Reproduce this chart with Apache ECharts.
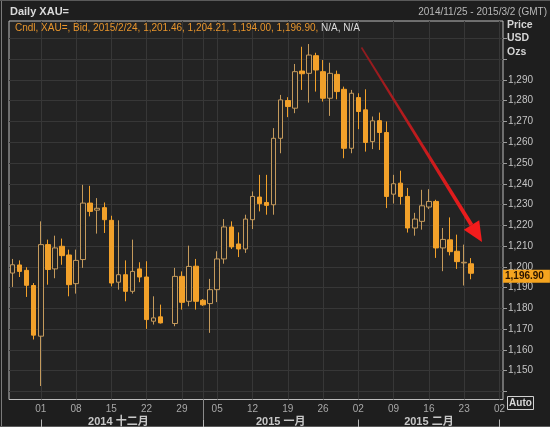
<!DOCTYPE html>
<html>
<head>
<meta charset="utf-8">
<script src="https://cdn.jsdelivr.net/npm/echarts@6/dist/echarts.min.js"></script>
<style>
html, body { margin: 0; padding: 0; background: #1e1e1e; }
#chart { width: 550px; height: 427px; }
</style>
</head>
<body>
<div id="chart"></div>
<script>
// trading days on the axis, 2014/11/25 - 2015/3/2
const dates = [
  '2014-11-25', '2014-11-26', '2014-11-27', '2014-11-28',
  '2014-12-01', '2014-12-02', '2014-12-03', '2014-12-04', '2014-12-05',
  '2014-12-08', '2014-12-09', '2014-12-10', '2014-12-11', '2014-12-12',
  '2014-12-15', '2014-12-16', '2014-12-17', '2014-12-18', '2014-12-19',
  '2014-12-22', '2014-12-23', '2014-12-24', '2014-12-25', '2014-12-26',
  '2014-12-29', '2014-12-30', '2014-12-31', '2015-01-01', '2015-01-02',
  '2015-01-05', '2015-01-06', '2015-01-07', '2015-01-08', '2015-01-09',
  '2015-01-12', '2015-01-13', '2015-01-14', '2015-01-15', '2015-01-16',
  '2015-01-19', '2015-01-20', '2015-01-21', '2015-01-22', '2015-01-23',
  '2015-01-26', '2015-01-27', '2015-01-28', '2015-01-29', '2015-01-30',
  '2015-02-02', '2015-02-03', '2015-02-04', '2015-02-05', '2015-02-06',
  '2015-02-09', '2015-02-10', '2015-02-11', '2015-02-12', '2015-02-13',
  '2015-02-16', '2015-02-17', '2015-02-18', '2015-02-19', '2015-02-20',
  '2015-02-23', '2015-02-24', '2015-02-25', '2015-02-26', '2015-02-27',
  '2015-03-02'
];

const opens = [1197, 1200.9, 1198.3, 1191, 1166.6, 1210.7, 1199, 1209.9, 1205.7, 1191.9,
  1203.5, 1230.7, 1227.3, 1228.5, 1222.4, 1192.6, 1196.2, 1188.2, 1199, 1195.1,
  1173.8, 1175.9, null, 1172.7, 1195.4, 1183.4, 1200.3, 1183.9, 1182.3, 1189,
  1203.8, 1219.2, 1211, 1208.6, 1222.7, 1233.6, 1231, 1229.9, 1261.9, 1280.1,
  1276.4, 1294.3, 1293.2, 1301.7, 1294, 1281.2, 1292.7, 1285.5, 1257.1, 1281.5,
  1275.6, 1260.3, 1270.4, 1264.7, 1235, 1240.3, 1233.9, 1218.7, 1221.9, 1228.8,
  1231.5, 1209.1, 1213, 1207.5, 1201.9, 1201.46, null, null, null, null];
const closes = [1201, 1197.8, 1191.1, 1167.1, 1210.7, 1198.7, 1209.1, 1205.4, 1191.4, 1203.1,
  1230.7, 1226.7, 1228.2, 1222.7, 1192.2, 1196.2, 1188.2, 1197.8, 1195.1, 1174.6,
  1175.4, 1173, null, 1195.4, 1182.9, 1200.2, 1183.4, 1181.7, 1189, 1203.8,
  1219.2, 1209.6, 1208.6, 1223, 1233.9, 1230.4, 1229.6, 1261.9, 1280.4, 1277.2,
  1294, 1293, 1302, 1294.8, 1281.2, 1293.2, 1284.4, 1257.1, 1283.6, 1274.8,
  1259.9, 1270.3, 1264.7, 1233.9, 1240, 1233.9, 1218.7, 1223, 1229.4, 1231.5,
  1209.1, 1213.2, 1207.3, 1202.5, 1202.2, 1196.90, null, null, null, null];
const lows = [1190.3, 1195.1, 1185.5, 1165, 1142.6, 1191.4, 1194.5, 1201, 1185.8, 1187.1,
  1199.5, 1224.3, 1216, 1216.3, 1190.6, 1189, 1183.4, 1187.1, 1192.6, 1170.1,
  1172.2, 1172.7, null, 1171.4, 1179.4, 1181, 1179.4, 1181.2, 1168.2, 1183,
  1201.5, 1208.6, 1204.7, 1206.7, 1218.2, 1226.7, 1225.1, 1225.1, 1254.7, 1272.1,
  1274, 1285.2, 1279.1, 1284.4, 1279.6, 1272.7, 1280.7, 1252.3, 1254.7, 1266.3,
  1255.5, 1256.7, 1256.3, 1228.3, 1230.5, 1230, 1216.5, 1215, 1217.9, 1227.8,
  1204.3, 1197.9, 1205.5, 1199, 1191, 1194.00, null, null, null, null];
const highs = [1203.8, 1203.1, 1199.8, 1192.2, 1221.9, 1213.1, 1215, 1213.6, 1208.3, 1208.3,
  1239.5, 1239, 1233.1, 1231, 1224.6, 1222.4, 1203.1, 1213.1, 1202.2, 1202.7,
  1185.8, 1181.8, null, 1199.5, 1197.8, 1210.2, 1203.8, 1184.5, 1194.2, 1207.5,
  1223, 1221.9, 1216.6, 1225.1, 1236.3, 1244.3, 1244.3, 1266.8, 1282.8, 1281.7,
  1297.7, 1306, 1307.3, 1303.1, 1299.6, 1298.3, 1294.5, 1286.8, 1285.2, 1283.6,
  1285.5, 1272.4, 1274.3, 1270, 1244.3, 1246.3, 1238, 1226, 1237.1, 1237.4,
  1232.3, 1218.7, 1223.8, 1215.5, 1210.7, 1204.21, null, null, null, null];

const lastClose = 1196.90;
const yMin = 1136.1;
const yMax = 1318.4;
const monthNames = ['一月', '二月', '三月', '四月', '五月', '六月', '七月', '八月', '九月', '十月', '十一月', '十二月'];

const FONT = '"Liberation Sans", "Noto Sans CJK SC", sans-serif';
const UP = '#c49a5c';
const DOWN = '#f2a12a';

const isMonday = d => new Date(d + 'T00:00:00Z').getUTCDay() === 1;
const monthStart = i => i > 0 && dates[i].slice(0, 7) !== dates[i - 1].slice(0, 7);
const yearStart = i => i > 0 && dates[i].slice(0, 4) !== dates[i - 1].slice(0, 4);

// middle slot of each (full) month gets the month label
const monthGroups = {};
dates.forEach((d, i) => {
  const k = d.slice(0, 7);
  (monthGroups[k] = monthGroups[k] || []).push(i);
});
const monthMid = {};
Object.keys(monthGroups).forEach(k => {
  const g = monthGroups[k];
  if (g.length >= 5) monthMid[Math.round((g[0] + g[g.length - 1]) / 2)] = k;
});

const candles = dates.map((d, i) =>
  opens[i] == null ? '-' : [opens[i], closes[i], lows[i], highs[i]]);

const fmt = v => v.toLocaleString('en-US');

const chart = echarts.init(document.getElementById('chart'));

chart.setOption({
  backgroundColor: '#1e1e1e',
  animation: false,
  textStyle: { fontFamily: FONT },
  grid: {
    left: 9, right: 47, top: 21, bottom: 27,
    show: true, backgroundColor: '#232323', borderColor: '#bdbdbd', borderWidth: 1
  },
  xAxis: [{
    type: 'category',
    data: dates,
    boundaryGap: true,
    axisLine: { show: false },
    axisTick: {
      show: true, alignWithLabel: true, length: 20,
      interval: i => yearStart(i),
      lineStyle: { color: '#8a8a8a' }
    },
    axisLabel: {
      interval: (i, v) => isMonday(v),
      formatter: v => v.slice(8),
      color: '#a8a8a8', fontSize: 10, margin: 5, fontFamily: FONT
    },
    splitLine: {
      show: true, alignWithLabel: true,
      interval: (i, v) => isMonday(v) || monthStart(i),
      lineStyle: { color: '#373737', width: 1 }
    }
  }, {
    type: 'category',
    data: dates,
    position: 'bottom',
    offset: 20,
    axisLine: { show: false },
    axisTick: {
      show: true, alignWithLabel: true, length: 8,
      interval: i => monthStart(i),
      lineStyle: { color: '#b8b8b8' }
    },
    axisLabel: {
      interval: i => monthMid[i] !== undefined,
      formatter: (v) => v.slice(0, 4) + ' ' + monthNames[+v.slice(5, 7) - 1],
      verticalAlign: 'middle', margin: 2,
      color: '#c8c8c8', fontSize: 11, fontWeight: 'bold', fontFamily: FONT
    },
    splitLine: { show: false }
  }],
  yAxis: {
    type: 'value',
    position: 'right',
    min: yMin, max: yMax,
    splitNumber: 18, minInterval: 10, maxInterval: 10,
    axisLine: { show: false },
    axisTick: { show: true, length: 4, lineStyle: { color: '#9a9a9a' } },
    axisLabel: {
      margin: 5, color: '#c4c4c4', fontSize: 10, fontFamily: FONT,
      showMinLabel: false, showMaxLabel: false,
      formatter: v => {
        const r = Math.round(v / 10) * 10;
        return (Math.abs(v - r) < 1e-6 && r >= 1150 && r <= 1290) ? fmt(r) : '';
      }
    },
    splitLine: { show: true, showMinLine: false, showMaxLine: false, lineStyle: { color: '#373737', width: 1 } }
  },
  series: [{
    type: 'candlestick',
    xAxisIndex: 0,
    barWidth: 5,
    data: candles,
    itemStyle: {
      color: '#232323', color0: DOWN,
      borderColor: UP, borderColor0: DOWN, borderWidth: 1
    },
    markLine: {
      silent: true,
      symbol: 'none',
      animation: false,
      lineStyle: { color: 'rgba(0,0,0,0)', width: 0, type: 'solid' },
      label: {
        show: true,
        position: 'end', distance: 0, offset: [0, 3],
        formatter: p => p.value.toLocaleString('en-US', { minimumFractionDigits: 2 }),
        backgroundColor: '#f5a41f', color: '#2a1400',
        fontSize: 10, fontWeight: 'bold', fontFamily: FONT,
        padding: [2, 6, 1, 2]
      },
      data: [{ yAxis: lastClose }]
    }
  }],
  graphic: [
    // window frame
    { type: 'line', shape: { x1: 1.5, y1: 0, x2: 1.5, y2: 427 }, style: { stroke: '#7a7a7a', lineWidth: 1 } },
    { type: 'line', shape: { x1: 0, y1: 0.5, x2: 550, y2: 0.5 }, style: { stroke: '#5a5a5a', lineWidth: 1 } },
    { type: 'line', shape: { x1: 0, y1: 426.5, x2: 550, y2: 426.5 }, style: { stroke: '#5a5a5a', lineWidth: 1 } },
    {
      type: 'text', style: {
        x: 10, y: 12, text: 'Daily XAU=', fill: '#dadada',
        font: 'bold 11px ' + FONT, verticalAlign: 'middle'
      }
    },
    {
      type: 'text', style: {
        x: 547, y: 12, text: '2014/11/25 - 2015/3/2 (GMT)', fill: '#b8b8b8',
        font: '10px ' + FONT, align: 'right', verticalAlign: 'middle'
      }
    },
    {
      type: 'text', z: 20, style: {
        x: 15, y: 28,
        text: '{o|Cndl, XAU=, Bid, 2015/2/24, 1,201.46, 1,204.21, 1,194.00, 1,196.90, }{w|N/A, N/A}',
        font: '10px ' + FONT, verticalAlign: 'middle',
        rich: {
          o: { fill: '#e8952c', font: '10px ' + FONT },
          w: { fill: '#dcdcdc', font: '10px ' + FONT }
        }
      }
    },
    { type: 'text', style: { x: 507, y: 25, text: 'Price', fill: '#d4d4d4', font: 'bold 10.5px ' + FONT, verticalAlign: 'middle' } },
    { type: 'text', style: { x: 507, y: 38.5, text: 'USD', fill: '#d4d4d4', font: 'bold 10.5px ' + FONT, verticalAlign: 'middle' } },
    { type: 'text', style: { x: 507, y: 52, text: 'Ozs', fill: '#d4d4d4', font: 'bold 10.5px ' + FONT, verticalAlign: 'middle' } },
    { type: 'rect', z: 20, shape: { x: 507.5, y: 396.5, width: 26, height: 13 }, style: { fill: '#1e1e1e', stroke: '#d0d0d0', lineWidth: 1 } },
    { type: 'text', z: 21, style: { x: 520.5, y: 403, text: 'Auto', fill: '#d8d8d8', font: 'bold 10px ' + FONT, align: 'center', verticalAlign: 'middle' } },
    // red arrow annotation
    {
      type: 'polygon', z: 30,
      shape: { points: [[362.2, 47.1], [360.8, 47.9], [469.8, 226.1], [473.2, 223.9]] },
      style: {
        fill: new echarts.graphic.LinearGradient(0, 0, 1, 1, [
          { offset: 0, color: '#8e1b1f' }, { offset: 1, color: '#f01c1c' }
        ])
      }
    },
    {
      type: 'polygon', z: 30,
      shape: { points: [[479.2, 220.3], [463.8, 229.7], [482, 242]] },
      style: { fill: '#f41c1c' }
    }
  ]
});
</script>
</body>
</html>
